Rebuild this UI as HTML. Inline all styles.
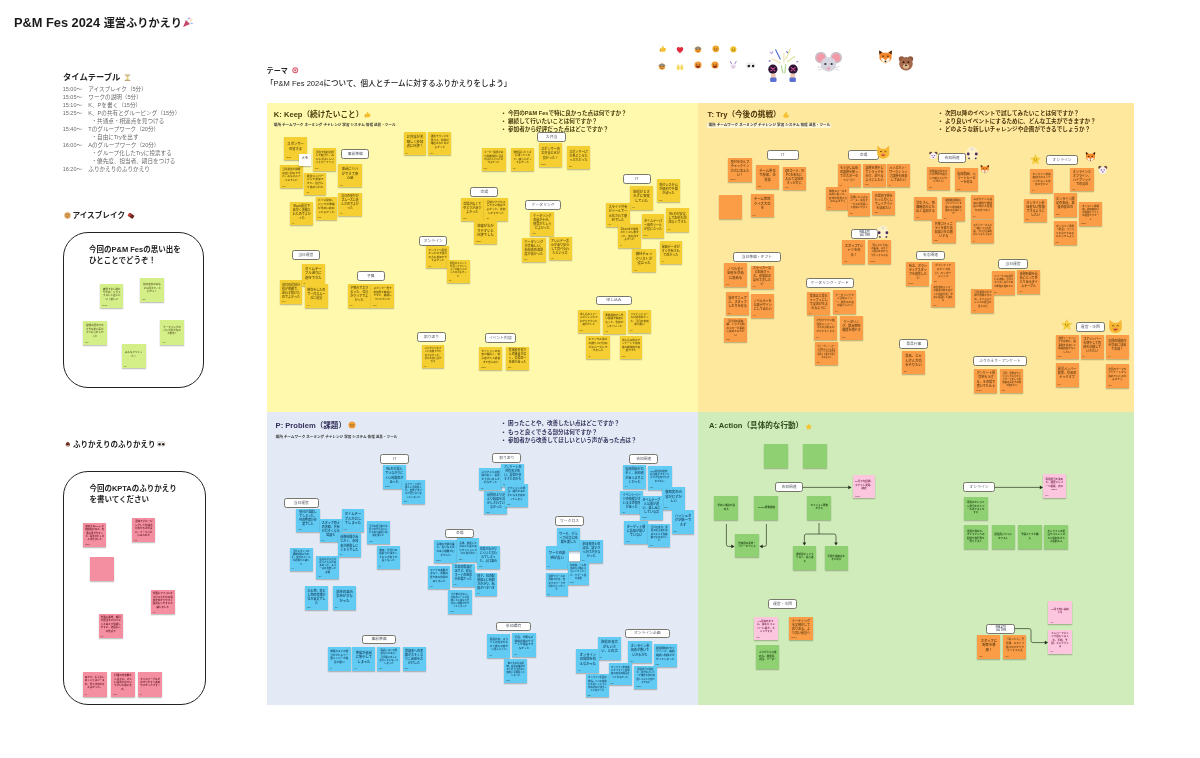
<!DOCTYPE html>
<html lang="ja"><head><meta charset="utf-8"><title>P&amp;M Fes 2024 運営ふりかえり</title><style>
*{box-sizing:border-box}
html,body{margin:0;padding:0}
body{width:1200px;height:758px;position:relative;overflow:hidden;background:#fff;font-family:"Liberation Sans","Noto Sans CJK JP",sans-serif;color:#1f1f1f}
.q{position:absolute}
.s{position:absolute;box-shadow:0 1.3px 1.2px rgba(40,40,30,.34);overflow:hidden;text-align:center;display:flex;align-items:center;justify-content:center}
.s b{display:block;font-weight:700;font-size:2.7px;line-height:1.36;padding:0 2px 3px;color:rgba(40,28,0,.66);word-break:break-all}
.s i{position:absolute;left:2px;bottom:1.6px;font-style:normal;font-size:1.7px;line-height:2px;color:rgba(30,20,0,.7)}
.y{background:#f5cf31}.o{background:#fa9d46}.c{background:#62cbf3}.g{background:#8fd172}.lg{background:#d4ee88}.pk{background:#f48fa1}.lp{background:#fbc6de}.w{background:#fff}
.c b{color:rgba(0,30,60,.7)}.g b{color:rgba(10,40,0,.8);padding-bottom:1px}.lp b{color:rgba(90,0,50,.8)}.pk b{color:rgba(70,0,10,.8)}
.l{position:absolute;background:#fff;border:.8px solid #77776c;border-radius:2.4px;font-size:3.8px;line-height:1;display:flex;align-items:center;justify-content:center;color:#50545e;white-space:nowrap;font-weight:400;padding-top:1.7px}
.l.big{font-size:5.6px;color:#5a6070;padding-top:.6px}
.t{position:absolute;white-space:nowrap;line-height:1}
.h{font-weight:700}
svg{position:absolute;overflow:visible}
</style></head><body><div id="board" style="position:absolute;left:0;top:0;width:1200px;height:758px;will-change:transform">
<div class="q" style="left:267px;top:103px;width:431.2px;height:308.6px;background:#fff9ae"></div>
<div class="q" style="left:698.2px;top:103px;width:435.8px;height:308.6px;background:#fde89e"></div>
<div class="q" style="left:267px;top:411.6px;width:431.2px;height:293.2px;background:#e4eaf5"></div>
<div class="q" style="left:698.2px;top:411.6px;width:435.8px;height:293px;background:#cfecba"></div>
<div class="t h" style="left:14px;top:16.6px;font-size:12.8px;color:#1a1a1a">P&amp;M Fes 2024 <span style="font-size:11.2px">運営ふりかえり</span></div>
<div class="t h" style="left:63px;top:73.3px;font-size:8.3px;color:#222">タイムテーブル</div>
<div class="t " style="left:62.7px;top:87.4px;font-size:5.5px;color:#6a6a6a">15:00～</div>
<div class="t " style="left:88.3px;top:87.4px;font-size:5.6px;color:#6a6a6a">アイスブレイク（5分）</div>
<div class="t " style="left:62.7px;top:95.4px;font-size:5.5px;color:#6a6a6a">15:05～</div>
<div class="t " style="left:88.3px;top:95.4px;font-size:5.6px;color:#6a6a6a">ワークの説明（5分）</div>
<div class="t " style="left:62.7px;top:103.4px;font-size:5.5px;color:#6a6a6a">15:10～</div>
<div class="t " style="left:88.3px;top:103.4px;font-size:5.6px;color:#6a6a6a">K、Pを書く（15分）</div>
<div class="t " style="left:62.7px;top:111.4px;font-size:5.5px;color:#6a6a6a">15:25～</div>
<div class="t " style="left:88.3px;top:111.4px;font-size:5.6px;color:#6a6a6a">K、Pの共有とグルーピング（15分）</div>
<div class="t " style="left:91.5px;top:119.4px;font-size:5.6px;color:#6a6a6a">・共通点・相違点を見つける</div>
<div class="t " style="left:62.7px;top:127.4px;font-size:5.5px;color:#6a6a6a">15:40～</div>
<div class="t " style="left:88.3px;top:127.4px;font-size:5.6px;color:#6a6a6a">Tのグループワーク（20分）</div>
<div class="t " style="left:91.5px;top:135.4px;font-size:5.6px;color:#6a6a6a">・自由にTryを出す</div>
<div class="t " style="left:62.7px;top:143.4px;font-size:5.5px;color:#6a6a6a">16:00～</div>
<div class="t " style="left:88.3px;top:143.4px;font-size:5.6px;color:#6a6a6a">Aのグループワーク（20分）</div>
<div class="t " style="left:91.5px;top:151.4px;font-size:5.6px;color:#6a6a6a">・グループ化したTryに投票する</div>
<div class="t " style="left:91.5px;top:159.4px;font-size:5.6px;color:#6a6a6a">・優先度、担当者、期日をつける</div>
<div class="t " style="left:62.7px;top:167.4px;font-size:5.5px;color:#6a6a6a">16:20～</div>
<div class="t " style="left:88.3px;top:167.4px;font-size:5.6px;color:#6a6a6a">ふりかえりのふりかえり</div>
<div class="t h" style="left:266.6px;top:67.6px;font-size:7.1px;color:#222">テーマ</div>
<div class="t " style="left:266px;top:79.7px;font-size:7.55px;font-weight:500;color:#222">「P&amp;M Fes 2024について、個人とチームに対するふりかえりをしよう」</div>
<div class="t h" style="left:273.8px;top:110.6px;font-size:7.6px;color:#4a3c0c">K: Keep（続けたいこと）</div>
<div class="t h" style="left:707.6px;top:111.0px;font-size:7.6px;color:#4a3208">T: Try（今後の挑戦）</div>
<div class="t h" style="left:275.6px;top:421.6px;font-size:7.6px;color:#34305c">P: Problem（課題）</div>
<div class="t h" style="left:709px;top:421.6px;font-size:7.6px;color:#2c4a1c">A: Action（具体的な行動）</div>
<div class="t h" style="left:273.8px;top:124.3px;font-size:3.6px;color:#333">場所 チームワーク ネーミング チャレンジ 学習 システム 情報 道具・ツール</div>
<div class="q" style="left:707.4px;top:122.8px;width:124px;height:5.6px;background:rgba(255,255,255,.55)"></div>
<div class="t h" style="left:708.5px;top:124.4px;font-size:3.6px;color:#333">場所 チームワーク ネーミング チャレンジ 学習 システム 情報 道具・ツール</div>
<div class="t h" style="left:275.6px;top:435.6px;font-size:3.6px;color:#333">場所 チームワーク ネーミング チャレンジ 学習 システム 情報 道具・ツール</div>
<div class="t h" style="left:502.5px;top:110.7px;font-size:5.6px;color:#4a3c0c">•</div>
<div class="t h" style="left:508px;top:110.7px;font-size:5.6px;color:#4a3c0c">今回のP&amp;M Fesで特に良かった点は何ですか？</div>
<div class="t h" style="left:502.5px;top:118.7px;font-size:5.6px;color:#4a3c0c">•</div>
<div class="t h" style="left:508px;top:118.7px;font-size:5.6px;color:#4a3c0c">継続して行いたいことは何ですか？</div>
<div class="t h" style="left:502.5px;top:126.7px;font-size:5.6px;color:#4a3c0c">•</div>
<div class="t h" style="left:508px;top:126.7px;font-size:5.6px;color:#4a3c0c">参加者から好評だった点はどこですか？</div>
<div class="t h" style="left:939.5px;top:110.89999999999999px;font-size:5.6px;color:#4a3208">•</div>
<div class="t h" style="left:945px;top:110.89999999999999px;font-size:5.6px;color:#4a3208">次回以降のイベントで試してみたいことは何ですか？</div>
<div class="t h" style="left:939.5px;top:119.1px;font-size:5.6px;color:#4a3208">•</div>
<div class="t h" style="left:945px;top:119.1px;font-size:5.6px;color:#4a3208">より良いイベントにするために、どんな工夫ができますか？</div>
<div class="t h" style="left:939.5px;top:126.89999999999999px;font-size:5.6px;color:#4a3208">•</div>
<div class="t h" style="left:945px;top:126.89999999999999px;font-size:5.6px;color:#4a3208">どのような新しいチャレンジや企画ができるでしょうか？</div>
<div class="t h" style="left:502.5px;top:421.3px;font-size:5.6px;color:#34305c">•</div>
<div class="t h" style="left:508px;top:421.3px;font-size:5.6px;color:#34305c">困ったことや、改善したい点はどこですか？</div>
<div class="t h" style="left:502.5px;top:429.7px;font-size:5.6px;color:#34305c">•</div>
<div class="t h" style="left:508px;top:429.7px;font-size:5.6px;color:#34305c">もっと良くできる部分は何ですか？</div>
<div class="t h" style="left:502.5px;top:437.7px;font-size:5.6px;color:#34305c">•</div>
<div class="t h" style="left:508px;top:437.7px;font-size:5.6px;color:#34305c">参加者から改善してほしいという声があった点は？</div>
<div class="t h" style="left:72.4px;top:211.6px;font-size:7.65px;color:#222">アイスブレイク</div>
<div class="q" style="left:62.7px;top:231.7px;width:141.8px;height:156.2px;border:1.1px solid #222;border-radius:25px"></div>
<div class="t h" style="left:89px;top:245.9px;font-size:7.5px;color:#222">今回のP&amp;M Fesの思い出を</div>
<div class="t h" style="left:89px;top:256.9px;font-size:7.5px;color:#222">ひとことでどうぞ！</div>
<div class="t h" style="left:73.0px;top:441.0px;font-size:7.5px;color:#222">ふりかえりのふりかえり</div>
<div class="q" style="left:62.7px;top:471.3px;width:143px;height:233.4px;border:1.1px solid #222;border-radius:25px"></div>
<div class="t h" style="left:89.4px;top:485.0px;font-size:7.5px;color:#222">今回のKPTAのふりかえり</div>
<div class="t h" style="left:89.4px;top:496.0px;font-size:7.5px;color:#222">を書いてください</div>
<svg style="left:0;top:0" width="1200" height="758" viewBox="0 0 1200 758"><g fill="none" stroke="#2e3a22" stroke-width="0.7">
<path d="M802.6 487.4H849"/><path d="M994.6 487.4H1040.5"/>
<path d="M726.4 524V544.4q0 2 2 2H732"/><path d="M766.4 524V544.4q0 2 -2 2H762"/>
<path d="M819 523V534M804.4 543V536q0-2 2-2H834q2 0 2 2V543"/>
<path d="M1015 628.6H1029q2 0 2 2V640.6q0 2 2 2H1045.5"/></g>
<g fill="#1f2a16"><path d="M851.5 487.4l-3.2-1.8v3.6z"/><path d="M1043 487.4l-3.2-1.8v3.6z"/>
<path d="M734.5 546.4l-3.2-1.8v3.6z"/><path d="M759.5 546.4l3.2-1.8v3.6z"/>
<path d="M804.4 545.6l-1.8-3.2h3.6z"/><path d="M836 545.6l-1.8-3.2h3.6z"/>
<path d="M1048 642.6l-3.2-1.8v3.6z"/></g></svg>
<div class="s y" style="left:284.2px;top:136.7px;width:22.8px;height:23.3px"><b style="font-size:3.3px">スポンサーの皆さま</b><i>tanaka</i></div>
<div class="s y" style="left:313.3px;top:147.5px;width:23.0px;height:23.3px"><b style="font-size:2.6px">全員で役割分担して動けた、みんなすばらしいフォローアップ</b><i>sato</i></div>
<div class="s y" style="left:280.0px;top:165.0px;width:22.5px;height:23.3px"><b style="font-size:2.6px">当日運営が臨機応変に対応できた。みなさんナイスでした</b><i>mori</i></div>
<div class="s y" style="left:304.2px;top:172.5px;width:22.1px;height:22.5px"><b style="font-size:2.8px">運営メンバーとして参加できた、協力して進められた</b><i>yuki</i></div>
<div class="s y" style="left:338.3px;top:163.7px;width:23.4px;height:23.8px"><b style="font-size:3.3px">事前にリハができて安心感</b><i>ken</i></div>
<div class="s y" style="left:338.3px;top:192.5px;width:23.4px;height:23.3px"><b style="font-size:2.9px">当日の受付がスムーズに進んだのでよかった</b><i>aoi</i></div>
<div class="s y" style="left:315.5px;top:196.7px;width:21.5px;height:23.3px"><b style="font-size:2.8px">バッジ配布、パンフの準備が早めに終わってよかった</b><i>hana</i></div>
<div class="s y" style="left:290.3px;top:201.7px;width:22.7px;height:23.6px"><b style="font-size:3.0px">Slack運営で素早く連絡とれたのでよかった</b><i>ito</i></div>
<div class="s y" style="left:403.7px;top:132.0px;width:22.6px;height:23.3px"><b style="font-size:3.3px">お弁当が美味しく参加者に好評！</b><i>ryo</i></div>
<div class="s y" style="left:428.3px;top:132.0px;width:23.0px;height:23.3px"><b style="font-size:2.6px">運営でランチを食べる、時間が確保されたのがよかった</b><i>nao</i></div>
<div class="s y" style="left:481.6px;top:147.6px;width:24.0px;height:23.4px"><b style="font-size:2.4px">コーヒー提供があり休憩時間に会話がはずんでいたのがよかった</b><i>mika</i></div>
<div class="s y" style="left:511.0px;top:147.6px;width:23.0px;height:23.4px"><b style="font-size:2.6px">懇親会にたくさん残ってくれて、盛り上がってよかった</b><i>sho</i></div>
<div class="s y" style="left:539.0px;top:143.0px;width:23.0px;height:24.0px"><b style="font-size:3.1px">スポンサーのお弁当と水が良かった！</b><i>tanaka</i></div>
<div class="s y" style="left:567.0px;top:145.6px;width:23.0px;height:23.4px"><b style="font-size:3.0px">スポンサーLTが見どころたっぷりだった</b><i>sato</i></div>
<div class="s y" style="left:657.0px;top:179.0px;width:23.0px;height:23.4px"><b style="font-size:3.1px">受付システムが便利で手間が減った</b><i>mori</i></div>
<div class="s y" style="left:630.0px;top:186.4px;width:23.0px;height:23.6px"><b style="font-size:3.3px">配信がとぎれずに安定していた</b><i>yuki</i></div>
<div class="s y" style="left:606.4px;top:203.0px;width:23.2px;height:24.0px"><b style="font-size:3.1px">スライド共有がツールで一元化されて便利でした</b><i>ken</i></div>
<div class="s y" style="left:666.0px;top:208.0px;width:23.0px;height:23.6px"><b style="font-size:3.0px">Wi-Fiが安定して配信も問題なくできた</b><i>aoi</i></div>
<div class="s y" style="left:641.6px;top:214.4px;width:22.8px;height:23.6px"><b style="font-size:3.0px">タイムキーパー用のツールが役に立った</b><i>hana</i></div>
<div class="s y" style="left:618.0px;top:224.4px;width:23.0px;height:23.6px"><b style="font-size:2.6px">Discordで質問がたくさん集まった、双方向でよかった</b><i>ito</i></div>
<div class="s y" style="left:659.6px;top:241.0px;width:22.4px;height:23.0px"><b style="font-size:3.0px">録画データがすぐ共有されて助かった</b><i>ryo</i></div>
<div class="s y" style="left:632.4px;top:249.0px;width:23.2px;height:23.4px"><b style="font-size:3.3px">機材チェックリストが役立った</b><i>nao</i></div>
<div class="s y" style="left:461.0px;top:198.0px;width:22.6px;height:23.0px"><b style="font-size:3.0px">会場が広くてゆとりがありよかった</b><i>mika</i></div>
<div class="s y" style="left:484.4px;top:198.0px;width:23.2px;height:23.0px"><b style="font-size:2.7px">会場がアクセスしやすい場所でよかった、参加しやすかった</b><i>sho</i></div>
<div class="s y" style="left:474.0px;top:221.0px;width:23.0px;height:22.6px"><b style="font-size:3.3px">導線がわかりやすいと好評でした</b><i>tanaka</i></div>
<div class="s y" style="left:530.4px;top:212.0px;width:23.6px;height:23.6px"><b style="font-size:3.0px">ケータリングの量が十分、軽食がちょうどよかった</b><i>sato</i></div>
<div class="s y" style="left:522.0px;top:237.6px;width:23.6px;height:24.0px"><b style="font-size:3.1px">ケータリングが美味しい、参加者の満足度が高かった</b><i>mori</i></div>
<div class="s y" style="left:548.6px;top:237.0px;width:23.0px;height:23.4px"><b style="font-size:3.0px">アレルギー表示があり安心して食べられたという声</b><i>yuki</i></div>
<div class="s y" style="left:426.4px;top:246.0px;width:22.6px;height:22.4px"><b style="font-size:2.6px">オンライン配信をしたので遠方の方も参加できてよかった</b><i>ken</i></div>
<div class="s y" style="left:447.0px;top:259.6px;width:22.6px;height:23.4px"><b style="font-size:2.4px">配信のコメントを拾ってセッションが盛り上がったのがよかった</b><i>aoi</i></div>
<div class="s y" style="left:279.6px;top:280.4px;width:22.8px;height:23.6px"><b style="font-size:3.0px">当日の役割分担が明確で、迷わず動けたのでよかった</b><i>hana</i></div>
<div class="s y" style="left:301.6px;top:263.6px;width:23.4px;height:22.4px"><b style="font-size:3.3px">タイムテーブル通りに進行できた</b><i>ito</i></div>
<div class="s y" style="left:305.0px;top:284.0px;width:22.6px;height:23.6px"><b style="font-size:3.0px">朝会をしたので一日スムーズに運営</b><i>ryo</i></div>
<div class="s y" style="left:347.6px;top:284.0px;width:23.4px;height:23.6px"><b style="font-size:3.0px">予算内でおさまった、会計がクリアでよかった</b><i>nao</i></div>
<div class="s y" style="left:371.0px;top:284.0px;width:23.0px;height:23.6px"><b style="font-size:2.6px">スポンサー費で参加費を無料にできた、感謝していただいた</b><i>mika</i></div>
<div class="s y" style="left:421.6px;top:345.0px;width:22.8px;height:23.4px"><b style="font-size:2.4px">ふりかえりをすぐに実施できたのでよかった、学びを次に活かせる</b><i>sho</i></div>
<div class="s y" style="left:479.0px;top:347.0px;width:23.4px;height:23.0px"><b style="font-size:2.7px">セッションの内容が幅広く、初心者から上級者まで楽しめた</b><i>tanaka</i></div>
<div class="s y" style="left:506.0px;top:347.0px;width:23.0px;height:23.0px"><b style="font-size:2.9px">登壇者の皆さんの熱量が高く、会場の一体感があった</b><i>sato</i></div>
<div class="s y" style="left:577.6px;top:309.6px;width:22.4px;height:23.4px"><b style="font-size:2.5px">申し込みフォームがシンプルでわかりやすいと評判でした</b><i>mori</i></div>
<div class="s y" style="left:603.0px;top:311.0px;width:22.6px;height:23.0px"><b style="font-size:2.6px">募集開始から早い段階で満席になった、告知がうまくいった</b><i>yuki</i></div>
<div class="s y" style="left:628.0px;top:309.6px;width:23.0px;height:23.4px"><b style="font-size:2.6px">リマインドメールが効果的だった、当日の参加率が高い</b><i>ken</i></div>
<div class="s y" style="left:586.4px;top:335.6px;width:23.2px;height:23.4px"><b style="font-size:2.7px">キャンセル待ちの繰り上げ対応がスムーズにできました</b><i>aoi</i></div>
<div class="s y" style="left:619.6px;top:335.6px;width:22.8px;height:23.4px"><b style="font-size:2.6px">申し込み時のアンケートで参加者の期待値を把握できた</b><i>hana</i></div>
<div class="s w" style="left:298.7px;top:154.2px;width:12.1px;height:11.6px"><b style="font-size:3.3px">メモ</b></div>
<div class="l" style="left:341.4px;top:149.3px;width:27.7px;height:9.6px">事前準備</div>
<div class="l" style="left:537.3px;top:132.3px;width:28.5px;height:9.9px">お弁当</div>
<div class="l" style="left:622.7px;top:174.3px;width:28.1px;height:9.5px">IT</div>
<div class="l" style="left:470.1px;top:186.7px;width:28.3px;height:9.9px">会場</div>
<div class="l" style="left:525.3px;top:199.7px;width:35.7px;height:9.9px">ケータリング</div>
<div class="l" style="left:419.1px;top:235.9px;width:28.3px;height:9.9px">オンライン</div>
<div class="l" style="left:291.7px;top:250.3px;width:28.3px;height:9.9px">当日運営</div>
<div class="l" style="left:356.7px;top:271.3px;width:28.3px;height:9.5px">予算</div>
<div class="l" style="left:417.3px;top:332.3px;width:28.5px;height:9.5px">振り返り</div>
<div class="l" style="left:484.7px;top:333.3px;width:31.3px;height:9.5px">イベント内容</div>
<div class="l" style="left:596.1px;top:295.7px;width:35.7px;height:9.5px">申し込み</div>
<div class="s o" style="left:728.4px;top:158.0px;width:23.2px;height:24.0px"><b style="font-size:3.1px">受付をセルフチェックイン方式に変えたい！</b><i>tanaka</i></div>
<div class="s o" style="left:756.0px;top:165.0px;width:23.0px;height:23.6px"><b style="font-size:3.3px">チーム単位で参加、企業枠</b><i>sato</i></div>
<div class="s o" style="left:783.0px;top:166.6px;width:22.6px;height:23.4px"><b style="font-size:3.0px">QRコード、NFCを名札に入れて交流のきっかけに</b><i>mori</i></div>
<div class="s o" style="left:718.6px;top:195.0px;width:23.4px;height:24.0px"></div>
<div class="s o" style="left:750.6px;top:194.0px;width:23.4px;height:23.4px"><b style="font-size:3.3px">チーム対抗クイズ大会を</b><i>ken</i></div>
<div class="s o" style="left:837.6px;top:164.0px;width:23.0px;height:23.4px"><b style="font-size:3.0px">もう少し広めの部屋を使ってポスターセッション</b><i>aoi</i></div>
<div class="s o" style="left:863.0px;top:163.6px;width:23.0px;height:23.4px"><b style="font-size:3.0px">部屋を増やしてトラックを分け、選べるようにしたい</b><i>hana</i></div>
<div class="s o" style="left:887.0px;top:164.0px;width:22.6px;height:23.4px"><b style="font-size:3.0px">ハンズオン・ワークショップ部屋を用意してみたい</b><i>ito</i></div>
<div class="s o" style="left:826.4px;top:186.6px;width:23.0px;height:23.4px"><b style="font-size:2.6px">休憩スペースを広めに取って、交流を促進するのがよさそう</b><i>ryo</i></div>
<div class="s o" style="left:848.0px;top:192.6px;width:22.0px;height:23.4px"><b style="font-size:2.5px">会場にキッズスペース、託児サービスを用意して参加しやすく</b><i>nao</i></div>
<div class="s o" style="left:872.4px;top:191.4px;width:22.6px;height:23.6px"><b style="font-size:3.0px">会場の下見をもっと早くしてレイアウトを決めたい</b><i>mika</i></div>
<div class="s o" style="left:842.4px;top:240.0px;width:23.0px;height:23.6px"><b style="font-size:3.3px">スタッフTシャツを作る！</b><i>sho</i></div>
<div class="s o" style="left:868.0px;top:240.0px;width:23.0px;height:23.6px"><b style="font-size:2.4px">「困ったときは」の看板、スタッフ窓口をわかりやすくする工夫</b><i>tanaka</i></div>
<div class="s o" style="left:927.0px;top:166.6px;width:22.6px;height:23.4px"><b style="font-size:2.6px">登壇者が決まるたびSNSで紹介して盛り上げていきたい</b><i>sato</i></div>
<div class="s o" style="left:955.0px;top:168.0px;width:23.0px;height:23.4px"><b style="font-size:3.1px">告知動画、ショートムービーを作る</b><i>mori</i></div>
<div class="s o" style="left:914.0px;top:197.0px;width:23.0px;height:23.0px"><b style="font-size:3.1px">学生さん、他職種の方にも広く告知する</b><i>yuki</i></div>
<div class="s o" style="left:942.0px;top:197.0px;width:23.0px;height:23.6px"><b style="font-size:2.4px">開催数週間前にプレイベントを開いて期待感を高めるのはどうか</b><i>ken</i></div>
<div class="s o" style="left:971.0px;top:195.0px;width:23.4px;height:23.6px"><b style="font-size:2.7px">公式サイトに過去の資料や雰囲気が伝わる写真をのせておく</b><i>aoi</i></div>
<div class="s o" style="left:932.0px;top:219.4px;width:23.6px;height:23.6px"><b style="font-size:3.0px">共催コミュニティを募り告知協力をお願いする</b><i>hana</i></div>
<div class="s o" style="left:971.0px;top:220.0px;width:23.4px;height:23.4px"><b style="font-size:2.4px">スポンサーさんと一緒にコラボ企画、ブログ記事を出してもらうなど</b><i>ito</i></div>
<div class="s o" style="left:1030.0px;top:169.4px;width:23.0px;height:23.6px"><b style="font-size:2.6px">オンライン参加者向けのコンテンツをもっと充実させたい</b><i>ryo</i></div>
<div class="s o" style="left:1070.4px;top:168.0px;width:23.2px;height:23.4px"><b style="font-size:3.0px">オンラインとオフライン、ハイブリッドでの交流</b><i>nao</i></div>
<div class="s o" style="left:1054.0px;top:192.6px;width:22.6px;height:24.0px"><b style="font-size:3.1px">オンライン限定の事前、事後の交流会</b><i>mika</i></div>
<div class="s o" style="left:1024.0px;top:198.6px;width:23.0px;height:23.4px"><b style="font-size:3.0px">オンライン参加者もLT登壇できるようにしたい</b><i>sho</i></div>
<div class="s o" style="left:1079.0px;top:202.4px;width:23.0px;height:23.6px"><b style="font-size:2.4px">オンライン視聴者、参加者向けの質問チャットを運営でサポート</b><i>tanaka</i></div>
<div class="s o" style="left:1053.6px;top:221.4px;width:23.0px;height:23.6px"><b style="font-size:2.6px">オンライン専用「司会」ファシリを立ててみるとどうでしょう</b><i>sato</i></div>
<div class="s o" style="left:724.0px;top:263.0px;width:23.0px;height:23.6px"><b style="font-size:3.3px">ノベルティ制作を早めに進める</b><i>mori</i></div>
<div class="s o" style="left:750.6px;top:265.6px;width:23.0px;height:23.4px"><b style="font-size:3.0px">ステッカーなど配布グッズ、参加記念品を工夫したい</b><i>yuki</i></div>
<div class="s o" style="left:726.0px;top:292.0px;width:23.0px;height:23.4px"><b style="font-size:3.1px">当日マニュアル、スタッフしおりを作る</b><i>ken</i></div>
<div class="s o" style="left:751.4px;top:294.4px;width:22.6px;height:23.6px"><b style="font-size:3.0px">ノベルティを公募デザインにしてみたい</b><i>aoi</i></div>
<div class="s o" style="left:724.0px;top:318.4px;width:23.0px;height:23.6px"><b style="font-size:2.6px">当日用の連絡網、トラブル時のフローを事前に決めておきたい</b><i>hana</i></div>
<div class="s o" style="left:807.4px;top:291.6px;width:22.6px;height:23.8px"><b style="font-size:3.0px">食事は立食ビュッフェにして交流が生まれるように</b><i>ito</i></div>
<div class="s o" style="left:833.4px;top:290.4px;width:22.6px;height:23.6px"><b style="font-size:2.6px">ケータリングでご当地メニュー、地元のお店を紹介したい</b><i>ryo</i></div>
<div class="s o" style="left:814.0px;top:316.4px;width:23.0px;height:23.2px"><b style="font-size:2.6px">片付けやすい個包装メニュー、ゴミの分別もわかりやすくする</b><i>nao</i></div>
<div class="s o" style="left:840.0px;top:316.0px;width:23.0px;height:23.6px"><b style="font-size:3.1px">ケータリング、飲み物の種類を増やす</b><i>mika</i></div>
<div class="s o" style="left:815.0px;top:341.6px;width:23.0px;height:23.4px"><b style="font-size:2.0px">ヴィーガン・ハラール対応メニューをメニューごとに表示を用意して誰でも楽しめるように</b><i>sho</i></div>
<div class="s o" style="left:906.4px;top:262.0px;width:23.0px;height:23.6px"><b style="font-size:3.0px">有志、ボランティアスタッフを募集したい</b><i>tanaka</i></div>
<div class="s o" style="left:932.0px;top:262.0px;width:22.6px;height:22.0px"><b style="font-size:2.7px">ボランティアスタッフ向け、オンボーディング</b><i>sato</i></div>
<div class="s o" style="left:931.4px;top:284.0px;width:23.2px;height:23.4px"><b style="font-size:2.4px">有志参加メンバーの得意分野を活かした役割分担、早めに相談して決める</b><i>mori</i></div>
<div class="s o" style="left:992.0px;top:271.0px;width:23.4px;height:23.6px"><b style="font-size:2.4px">リハーサルを前日にも実施。当日バタバタしないための準備を進めたい</b><i>yuki</i></div>
<div class="s o" style="left:1017.4px;top:269.6px;width:22.6px;height:24.0px"><b style="font-size:3.0px">休憩時間を長めにとってゆとりあるタイムテーブル</b><i>ken</i></div>
<div class="s o" style="left:971.4px;top:289.0px;width:23.0px;height:24.0px"><b style="font-size:2.5px">当日運営の引き継ぎ資料をまとめ、タイムラインごとの担当を見える化</b><i>aoi</i></div>
<div class="s o" style="left:1055.6px;top:335.0px;width:23.0px;height:24.0px"><b style="font-size:2.5px">運営ミーティングを定例化、議事録を共有して情報格差をなくしたい</b><i>hana</i></div>
<div class="s o" style="left:1080.6px;top:335.0px;width:23.0px;height:23.6px"><b style="font-size:3.0px">コアメンバーを増やして負荷を分散していきたい</b><i>ito</i></div>
<div class="s o" style="left:1106.0px;top:335.0px;width:22.6px;height:23.6px"><b style="font-size:3.0px">次回の開催日を早めに決めて告知！</b><i>ryo</i></div>
<div class="s o" style="left:1055.6px;top:363.0px;width:23.0px;height:23.6px"><b style="font-size:3.1px">運営メンバー募集、早めのキックオフ</b><i>nao</i></div>
<div class="s o" style="left:1106.0px;top:364.4px;width:22.6px;height:23.6px"><b style="font-size:2.6px">次回のテーマをアンケートから決めていくのがよさそう</b><i>mika</i></div>
<div class="s o" style="left:902.0px;top:350.6px;width:23.0px;height:23.4px"><b style="font-size:3.3px">景品、じゃんけん大会をやりたい</b><i>sho</i></div>
<div class="s o" style="left:974.4px;top:369.0px;width:23.0px;height:24.0px"><b style="font-size:3.1px">アンケート回答率を上げる、その場で書いてもらう</b><i>tanaka</i></div>
<div class="s o" style="left:1000.0px;top:369.0px;width:23.4px;height:23.6px"><b style="font-size:2.3px">当日、最後のセッションでふりかえりワークをして参加者の声をその場で集めたい</b><i>sato</i></div>
<div class="l" style="left:766.7px;top:149.7px;width:32.3px;height:9.9px">IT</div>
<div class="l" style="left:847.7px;top:149.7px;width:31.7px;height:9.9px">会場</div>
<div class="l big" style="left:850.7px;top:228.9px;width:27.7px;height:9.9px">警備</div>
<div class="l" style="left:938.1px;top:152.9px;width:27.9px;height:9.7px">告知関連</div>
<div class="l" style="left:1046.1px;top:155.3px;width:31.9px;height:9.9px">オンライン</div>
<div class="l" style="left:732.7px;top:252.3px;width:48.3px;height:9.5px">当日準備・ギフト</div>
<div class="l" style="left:805.7px;top:278.3px;width:48.1px;height:9.5px">ケータリング・フード</div>
<div class="l" style="left:916.1px;top:250.7px;width:28.9px;height:9.5px">有志関連</div>
<div class="l" style="left:998.1px;top:258.7px;width:29.7px;height:9.9px">当日運営</div>
<div class="l" style="left:1075.7px;top:322.3px;width:29.3px;height:9.5px">運営・次回</div>
<div class="l" style="left:899.1px;top:339.3px;width:29.3px;height:9.5px">景品行事</div>
<div class="l" style="left:973.1px;top:355.9px;width:53.7px;height:9.7px">ふりかえり・アンケート</div>
<div class="s c" style="left:383.0px;top:465.0px;width:22.6px;height:24.0px"><b style="font-size:3.0px">Wi-Fiが混んでつながりにくい時間帯があった</b><i>tanaka</i></div>
<div class="s c" style="left:402.0px;top:480.4px;width:22.6px;height:23.6px"><b style="font-size:2.4px">スクリーン切り替えに手間取った、変換アダプタが足りなくなってしまった</b><i>sato</i></div>
<div class="s c" style="left:296.4px;top:509.0px;width:23.2px;height:23.0px"><b style="font-size:2.9px">受付が混雑してしまった、列の整理が必要でした</b><i>mori</i></div>
<div class="s c" style="left:341.6px;top:509.0px;width:22.8px;height:23.0px"><b style="font-size:3.3px">タイムテーブルがおしてしまった</b><i>yuki</i></div>
<div class="s c" style="left:319.6px;top:519.0px;width:22.4px;height:23.4px"><b style="font-size:3.0px">スタッフ同士の連絡、共有がおそくなる場面も</b><i>ken</i></div>
<div class="s c" style="left:338.0px;top:533.0px;width:22.6px;height:24.0px"><b style="font-size:3.0px">休憩時間がみじかく、参加者が移動しにくそうでした</b><i>aoi</i></div>
<div class="s c" style="left:367.0px;top:521.0px;width:22.6px;height:23.0px"><b style="font-size:2.3px">当日の担当者が不在でわからないことがあり確認に時間を要した</b><i>hana</i></div>
<div class="s c" style="left:377.0px;top:545.6px;width:22.6px;height:23.4px"><b style="font-size:2.6px">撤収、片付けの段取りが決まっておらず終了が遅くなった</b><i>ito</i></div>
<div class="s c" style="left:289.6px;top:547.6px;width:23.0px;height:23.4px"><b style="font-size:2.4px">当日スタッフの休憩時間がとれず、交代のルールが必要だと感じた</b><i>ryo</i></div>
<div class="s c" style="left:316.4px;top:555.6px;width:22.6px;height:23.4px"><b style="font-size:2.4px">名札の記入台が足りず入口が混みあった、スペースの見直しが必要</b><i>nao</i></div>
<div class="s c" style="left:305.0px;top:586.4px;width:23.0px;height:23.6px"><b style="font-size:3.0px">忘れ物、落とし物の管理方法が未定でした</b><i>mika</i></div>
<div class="s c" style="left:333.0px;top:586.4px;width:23.0px;height:23.6px"><b style="font-size:3.3px">誘導の案内表示が少なかった</b><i>sho</i></div>
<div class="s c" style="left:434.0px;top:540.0px;width:23.0px;height:23.0px"><b style="font-size:2.6px">会場の空調が暑い、寒いなど声があり調整がむずかしい</b><i>tanaka</i></div>
<div class="s c" style="left:457.0px;top:538.4px;width:22.0px;height:23.6px"><b style="font-size:2.5px">会場、部屋ごとの広さに差がありセッションで立ち見が出た</b><i>sato</i></div>
<div class="s c" style="left:477.0px;top:546.0px;width:22.6px;height:23.0px"><b style="font-size:2.9px">会場がわかりにくいと言われてしまった、入口案内</b><i>mori</i></div>
<div class="s c" style="left:427.6px;top:566.0px;width:22.8px;height:23.0px"><b style="font-size:2.6px">マイクの本数が少なく、質疑応答で待ち時間がありました</b><i>yuki</i></div>
<div class="s c" style="left:451.6px;top:564.0px;width:23.4px;height:23.0px"><b style="font-size:2.9px">会場の電源が足りず、延長コードの用意が必要だった</b><i>ken</i></div>
<div class="s c" style="left:475.0px;top:573.0px;width:22.0px;height:23.0px"><b style="font-size:2.9px">椅子、机の配置換えに時間がかかり、転換がバタバタ</b><i>aoi</i></div>
<div class="s c" style="left:448.4px;top:590.0px;width:23.2px;height:24.0px"><b style="font-size:2.3px">ゴミ箱が少ない、分別のルールが会場ごとに異なり片付けに時間がかかってしまった</b><i>hana</i></div>
<div class="s c" style="left:328.0px;top:647.0px;width:22.6px;height:23.6px"><b style="font-size:2.6px">準備タスクの担当がかたより一部メンバーの負荷が高い</b><i>ito</i></div>
<div class="s c" style="left:352.4px;top:647.0px;width:23.0px;height:23.6px"><b style="font-size:3.3px">準備が直前に集中してしまった</b><i>ryo</i></div>
<div class="s c" style="left:377.4px;top:647.0px;width:23.0px;height:23.6px"><b style="font-size:2.4px">備品リストの更新もれがあり、当日買い出しに走ることになってしまった</b><i>nao</i></div>
<div class="s c" style="left:402.6px;top:647.0px;width:23.0px;height:23.6px"><b style="font-size:3.0px">登壇者への連絡がおそくなりご迷惑をおかけした</b><i>mika</i></div>
<div class="s c" style="left:479.0px;top:468.0px;width:23.0px;height:22.4px"><b style="font-size:2.6px">ふりかえりの時間が短く、意見を十分に出しきれなかった</b><i>sho</i></div>
<div class="s c" style="left:501.0px;top:464.0px;width:23.4px;height:23.0px"><b style="font-size:2.9px">アンケートの回答率が低い、設問が多すぎたのかも</b><i>tanaka</i></div>
<div class="s c" style="left:484.4px;top:491.0px;width:23.0px;height:23.4px"><b style="font-size:3.0px">前回のふりかえり結果を活かしきれていなかった</b><i>sato</i></div>
<div class="s c" style="left:505.0px;top:484.0px;width:22.6px;height:23.0px"><b style="font-size:2.6px">アクションの担当、期日があいまいなまま終わってしまう</b><i>mori</i></div>
<div class="s c" style="left:557.0px;top:528.0px;width:23.0px;height:23.0px"><b style="font-size:3.1px">ワーク、グループ分けに時間を要した</b><i>yuki</i></div>
<div class="s c" style="left:580.0px;top:539.6px;width:22.6px;height:23.4px"><b style="font-size:3.0px">参加者同士の交流、話すきっかけが少なかった</b><i>ken</i></div>
<div class="s c" style="left:545.6px;top:545.6px;width:23.0px;height:23.4px"><b style="font-size:3.3px">ワークの説明が長い</b><i>aoi</i></div>
<div class="s c" style="left:568.0px;top:562.0px;width:20.6px;height:23.0px"><b style="font-size:2.3px">初参加、一人参加の方が輪に入りにくそうだった、サポート役が必要</b><i>hana</i></div>
<div class="s c" style="left:545.6px;top:573.0px;width:22.4px;height:23.4px"><b style="font-size:2.4px">目的やゴールの共有が不足、何をするワークか伝わりにくかった</b><i>ito</i></div>
<div class="s c" style="left:623.0px;top:465.0px;width:23.0px;height:24.0px"><b style="font-size:3.1px">告知開始がおそく、参加者があつまりにくかった</b><i>ryo</i></div>
<div class="s c" style="left:648.0px;top:466.0px;width:23.6px;height:23.6px"><b style="font-size:2.4px">SNS発信の頻度、担当者がきまっておらず告知がとぎれがちに</b><i>nao</i></div>
<div class="s c" style="left:662.0px;top:487.0px;width:23.0px;height:23.0px"><b style="font-size:3.3px">告知文の内容がむずかしい</b><i>mika</i></div>
<div class="s c" style="left:620.4px;top:491.0px;width:22.6px;height:23.4px"><b style="font-size:3.0px">イベントページの情報が古いままの箇所があった</b><i>sho</i></div>
<div class="s c" style="left:640.0px;top:496.0px;width:23.0px;height:23.6px"><b style="font-size:3.0px">タイムテーブル公開が遅い、楽しみにしている声</b><i>tanaka</i></div>
<div class="s c" style="left:671.6px;top:510.4px;width:22.8px;height:23.2px"><b style="font-size:3.3px">ハッシュタグが統一できず</b><i>sato</i></div>
<div class="s c" style="left:624.4px;top:521.0px;width:23.2px;height:23.0px"><b style="font-size:3.1px">ターゲット層に告知が届いていない</b><i>mori</i></div>
<div class="s c" style="left:648.0px;top:524.0px;width:22.4px;height:23.4px"><b style="font-size:2.4px">当日の実況、発信の担当者を決めておらず投稿数が少なめでした</b><i>yuki</i></div>
<div class="s c" style="left:487.4px;top:634.4px;width:23.0px;height:23.6px"><b style="font-size:2.6px">画面共有、スライドの文字が小さく後ろの席から見えにくい</b><i>ken</i></div>
<div class="s c" style="left:512.4px;top:633.0px;width:23.2px;height:23.6px"><b style="font-size:2.7px">手話、字幕など情報保障のサポートを用意できなかった</b><i>aoi</i></div>
<div class="s c" style="left:504.4px;top:659.4px;width:22.6px;height:23.2px"><b style="font-size:2.3px">車いすの方の導線、段差の確認が不十分で当日のご案内に手間取ってしまった</b><i>hana</i></div>
<div class="s c" style="left:598.0px;top:637.0px;width:23.0px;height:23.0px"><b style="font-size:3.3px">配信の音声がちいさい、との声</b><i>ito</i></div>
<div class="s c" style="left:576.4px;top:649.4px;width:23.0px;height:23.2px"><b style="font-size:3.3px">オンラインの質問を拾えなかった</b><i>ryo</i></div>
<div class="s c" style="left:628.4px;top:640.6px;width:23.2px;height:22.8px"><b style="font-size:3.1px">オンライン参加者が置いていかれがち</b><i>nao</i></div>
<div class="s c" style="left:653.6px;top:644.0px;width:23.4px;height:23.0px"><b style="font-size:2.7px">配信機材のセッティング、接続確認に時間がかかってしまった</b><i>mika</i></div>
<div class="s c" style="left:609.0px;top:662.6px;width:22.6px;height:22.8px"><b style="font-size:2.3px">オンライン参加者とオフライン参加者の交流の機会をつくれなかった</b><i>sho</i></div>
<div class="s c" style="left:634.0px;top:666.0px;width:23.0px;height:23.0px"><b style="font-size:2.3px">配信担当が固定で、ほかのメンバーが操作方法を把握しておらず交代できない</b><i>tanaka</i></div>
<div class="s c" style="left:585.6px;top:674.0px;width:23.4px;height:23.4px"><b style="font-size:2.3px">オンライン企画の準備、リハの時間が不足しトラブル時の対応が決まっていなかった</b><i>sato</i></div>
<div class="s w" style="left:569.0px;top:553.6px;width:10.6px;height:7.4px"></div>
<div class="l" style="left:379.7px;top:453.7px;width:29.7px;height:10.1px">IT</div>
<div class="l" style="left:283.7px;top:497.7px;width:35.1px;height:9.9px">当日運営</div>
<div class="l" style="left:445.3px;top:528.9px;width:29.1px;height:9.3px">会場</div>
<div class="l" style="left:362.1px;top:634.7px;width:33.9px;height:9.7px">事前準備</div>
<div class="l" style="left:492.1px;top:452.7px;width:29.3px;height:9.9px">振り返り</div>
<div class="l" style="left:555.1px;top:516.3px;width:28.9px;height:9.5px">ワークロス</div>
<div class="l" style="left:629.1px;top:453.7px;width:29.3px;height:9.9px">告知関連</div>
<div class="l" style="left:496.1px;top:621.7px;width:34.7px;height:9.5px">参加環境</div>
<div class="l" style="left:624.7px;top:628.7px;width:45.1px;height:9.5px">オンライン企画</div>
<div class="s g" style="left:764.0px;top:444.0px;width:23.6px;height:24.4px"></div>
<div class="s g" style="left:803.4px;top:444.0px;width:23.2px;height:24.4px"></div>
<div class="s g" style="left:714.4px;top:496.0px;width:23.6px;height:24.0px"><b style="font-size:2.5px">早めに場所を決める</b></div>
<div class="s g" style="left:754.4px;top:496.0px;width:24.0px;height:24.0px"><b style="font-size:2.5px">Peatix募集開始</b></div>
<div class="s g" style="left:807.4px;top:495.6px;width:23.6px;height:24.0px"><b style="font-size:2.5px">セッション募集をする</b></div>
<div class="s g" style="left:735.4px;top:534.0px;width:23.2px;height:23.4px"><b style="font-size:2.5px">告知用の素材・バナーをつくる</b></div>
<div class="s g" style="left:793.0px;top:546.4px;width:23.4px;height:24.0px"><b style="font-size:2.5px">運営用チェックリスト、振り返る</b></div>
<div class="s g" style="left:824.6px;top:546.4px;width:23.4px;height:24.0px"><b style="font-size:2.5px">手順や連絡先をまとめる</b></div>
<div class="s g" style="left:756.0px;top:645.0px;width:23.4px;height:24.0px"><b style="font-size:2.5px">ふりかえりの進め方、運営用、次回、リーダー</b></div>
<div class="s g" style="left:964.0px;top:496.6px;width:23.6px;height:23.8px"><b style="font-size:2.5px">専用のオンライン担当を立てツールのテストをする</b></div>
<div class="s g" style="left:964.0px;top:525.0px;width:23.6px;height:24.0px"><b style="font-size:2.5px">企画を進める、オンラインへの配信や進行表を作りテスト</b></div>
<div class="s g" style="left:991.6px;top:525.0px;width:23.4px;height:24.0px"><b style="font-size:2.5px">配信用パソコンをテスト</b></div>
<div class="s g" style="left:1018.0px;top:525.0px;width:23.6px;height:24.0px"><b style="font-size:2.5px">予備マイクを購入</b></div>
<div class="s g" style="left:1044.4px;top:525.0px;width:23.6px;height:24.0px"><b style="font-size:2.5px">オンラインの司会やコメントひろい役割を立てる役割と人</b></div>
<div class="s lp" style="left:853.0px;top:475.0px;width:22.0px;height:23.4px"><b style="font-size:2.5px">10月下旬目標、チケット発売、確定</b><i>tanaka</i></div>
<div class="s lp" style="left:754.4px;top:616.6px;width:23.2px;height:23.0px"><b style="font-size:2.5px">10月初めまでに、決める
メンバーに聞き、チェックする</b><i>sato</i></div>
<div class="s lp" style="left:1043.0px;top:474.4px;width:22.6px;height:23.6px"><b style="font-size:2.5px">専用担当を決める、運営メンバーへ相談、次のMTG</b><i>mori</i></div>
<div class="s lp" style="left:1048.4px;top:600.6px;width:23.2px;height:23.8px"><b style="font-size:2.5px">11月下旬には終える</b><i>yuki</i></div>
<div class="s lp" style="left:1048.4px;top:630.0px;width:23.2px;height:23.6px"><b style="font-size:2.5px">メンバーでチェック用にリスト化、手順、予算、メンテナンス</b><i>ken</i></div>
<div class="s o" style="left:789.4px;top:616.6px;width:23.2px;height:23.4px"><b style="font-size:3.0px">ミーティングを定例化して振り返る、より良い運営へ</b><i>tanaka</i></div>
<div class="s o" style="left:977.4px;top:635.0px;width:23.0px;height:24.0px"><b style="font-size:3.3px">スタッフに腕章を着用！</b><i>sato</i></div>
<div class="s o" style="left:1003.4px;top:635.0px;width:23.0px;height:24.0px"><b style="font-size:2.6px">「困ったら」受付横、スタッフ窓口をわかりやすくする工夫</b><i>mori</i></div>
<div class="l" style="left:775.1px;top:482.3px;width:27.9px;height:9.9px">告知関連</div>
<div class="l" style="left:768.1px;top:598.7px;width:28.9px;height:9.9px">運営・次回</div>
<div class="l" style="left:963.1px;top:482.3px;width:31.9px;height:9.9px">オンライン</div>
<div class="l big" style="left:986.1px;top:623.7px;width:29.3px;height:9.9px">警備</div>
<div class="s lg" style="left:100.1px;top:283.9px;width:23.3px;height:23.8px"><b style="font-size:2.5px">練習で少し喉をやすめ、リラックスして話したい！楽しい</b><i>tanaka</i></div>
<div class="s lg" style="left:140.2px;top:277.8px;width:23.8px;height:23.8px"><b style="font-size:2.5px">初の有志のみなさん同士で、とにかく！</b><i>sato</i></div>
<div class="s lg" style="left:83.0px;top:320.8px;width:23.7px;height:23.8px"><b style="font-size:2.5px">登壇の途中での大きな笑い声がとてもうれしかった</b><i>mori</i></div>
<div class="s lg" style="left:160.3px;top:320.0px;width:23.5px;height:24.6px"><b style="font-size:2.5px">ケータリングのパンが好きなので集中！</b><i>yuki</i></div>
<div class="s lg" style="left:122.0px;top:343.8px;width:23.5px;height:24.5px"><b style="font-size:2.5px">みんなでつくった！</b><i>ken</i></div>
<div class="s pk" style="left:83.0px;top:523.0px;width:23.4px;height:23.7px"><b style="font-size:2.4px">初めてのKPTAで時間配分など、付箋も書きやすくて、意見がたくさん出せました</b><i>tanaka</i></div>
<div class="s pk" style="left:132.1px;top:518.4px;width:23.3px;height:24.0px"><b style="font-size:2.5px">全体でグルーピングして共通点がわかるのがよい、テーマごとにみられた</b><i>sato</i></div>
<div class="s pk" style="left:90.2px;top:557.2px;width:23.5px;height:24.3px"></div>
<div class="s pk" style="left:150.6px;top:589.9px;width:24.4px;height:24.5px"><b style="font-size:2.5px">付箋にアイコンをつけるとだれの意見かわかりやすく投票もしやすいと感じました</b><i>yuki</i></div>
<div class="s pk" style="left:98.6px;top:613.6px;width:24.4px;height:24.9px"><b style="font-size:2.5px">付箋に番号、期日や担当をいれておくとあとで見返しやすい、次回もこの形式で</b><i>ken</i></div>
<div class="s pk" style="left:82.5px;top:671.8px;width:24.3px;height:24.8px"><b style="font-size:2.5px">あとで、もう少しゆっくりスペースを、見てまわれるとよかった。</b><i>aoi</i></div>
<div class="s pk" style="left:111.2px;top:671.8px;width:23.7px;height:24.8px"><b style="font-size:2.5px">付箋の文字数をしぼると、さらに意見がひろいやすいと思います。</b><i>hana</i></div>
<div class="s pk" style="left:138.0px;top:671.8px;width:24.4px;height:24.8px"><b style="font-size:2.5px">タイムテーブルがわかりやすく進めやすかったです！</b><i>ito</i></div>
<svg style="left:658.7px;top:44.5px" width="7.5" height="7.5" viewBox="0 0 20 20"><path d="M6 9l4-7q3 0 2.5 3l-.7 3h5q2 0 1.6 2l-1.4 6q-.5 2-2.5 2H6z" fill="#f5c02f"/><rect x="2" y="9" width="4" height="9" rx="1" fill="#e9a820"/></svg>
<svg style="left:676px;top:45.6px" width="8" height="8" viewBox="0 0 20 20"><path d="M10 18C2 12 1 8 2.5 5 4.5 1.5 9 2.5 10 5.5 11 2.5 15.500 1.500 17.500 5 19 8 18 12 10 18z" fill="#e02b3a"/></svg>
<svg style="left:693.8px;top:44.5px" width="8" height="8" viewBox="0 0 20 20"><circle cx="10" cy="11.500" r="8" fill="#f0a030"/><path d="M2 8q8-9 16 0l1 2H1z" fill="#8d8a86"/><circle cx="7" cy="11.500" r="1.300" fill="#5a3210"/><circle cx="13" cy="11.500" r="1.300" fill="#5a3210"/><path d="M7 15q3 2.500 6 0" fill="none" stroke="#7a2a10" stroke-width="1.300"/></svg>
<svg style="left:711.5px;top:45px" width="7.6" height="7.6" viewBox="0 0 20 20"><circle cx="10" cy="10" r="9" fill="#f0a830"/><circle cx="7" cy="8.5" r="1.3" fill="#5a3a12"/><circle cx="13" cy="8.5" r="1.3" fill="#5a3a12"/><path d="M6 12.5q4 4 8 0" fill="none" stroke="#5a3a12" stroke-width="1.3" stroke-linecap="round"/></svg>
<svg style="left:729.8px;top:46px" width="6.8" height="6.8" viewBox="0 0 20 20"><circle cx="10" cy="10" r="9" fill="#f2c230"/><circle cx="7" cy="8.5" r="1.3" fill="#5a3a12"/><circle cx="13" cy="8.5" r="1.3" fill="#5a3a12"/><path d="M6 12.5q4 4 8 0" fill="none" stroke="#5a3a12" stroke-width="1.3" stroke-linecap="round"/></svg>
<svg style="left:658.3px;top:61.5px" width="8" height="8" viewBox="0 0 20 20"><circle cx="10" cy="11.500" r="8" fill="#e9a040"/><path d="M2 8q8-9 16 0l1 2H1z" fill="#8d8a86"/><circle cx="7" cy="11.500" r="1.300" fill="#5a3210"/><circle cx="13" cy="11.500" r="1.300" fill="#5a3210"/><path d="M7 15q3 2.500 6 0" fill="none" stroke="#7a2a10" stroke-width="1.300"/></svg>
<svg style="left:675.5px;top:62.5px" width="8" height="8" viewBox="0 0 20 20"><path d="M2 8q0-2 2-2l1-3q1.500-1 2 1v2q2 0 2 3v6q0 3-3.500 3T2 15z" fill="#f5d860"/><path d="M18 8q0-2-2-2l-1-3q-1.500-1-2 1v2q-2 0-2 3v6q0 3 3.500 3T18 15z" fill="#f5d860"/></svg>
<svg style="left:693.8px;top:61px" width="8" height="8" viewBox="0 0 20 20"><circle cx="10" cy="10" r="9" fill="#f09a38"/><path d="M5 7.500l3 1.500-3 1.500M15 7.500l-3 1.500 3 1.500" fill="none" stroke="#5a3210" stroke-width="1.200"/><path d="M4.500 12h11q-1 5.500-5.500 5.500T4.500 12z" fill="#8a2a1a"/></svg>
<svg style="left:711.3px;top:60.8px" width="8" height="8" viewBox="0 0 20 20"><circle cx="10" cy="10" r="9" fill="#f39a30"/><path d="M5 7.500l3 1.500-3 1.500M15 7.500l-3 1.500 3 1.500" fill="none" stroke="#5a3210" stroke-width="1.200"/><path d="M4.500 12h11q-1 5.500-5.500 5.500T4.500 12z" fill="#8a2a1a"/></svg>
<svg style="left:728.5px;top:60.5px" width="8.5" height="8.5" viewBox="0 0 20 20"><path d="M3 1l4 7M17 1l-4 7" stroke="#9a6ab8" stroke-width="2" stroke-linecap="round"/><ellipse cx="10" cy="12.500" rx="7" ry="6.500" fill="#f3eef6"/><circle cx="7.300" cy="11.500" r="1.100" fill="#7a3a9a"/><circle cx="12.700" cy="11.500" r="1.100" fill="#7a3a9a"/><ellipse cx="10" cy="15" rx="2" ry="1.500" fill="#d78ac0"/></svg>
<svg style="left:745.5px;top:61.5px" width="9" height="6.5" viewBox="0 0 20 14"><ellipse cx="5.300" cy="7" rx="4.800" ry="6.300" fill="#f7f7f7" stroke="#cfcfcf" stroke-width=".8"/><ellipse cx="14.700" cy="7" rx="4.800" ry="6.300" fill="#f7f7f7" stroke="#cfcfcf" stroke-width=".8"/><circle cx="6.300" cy="8.500" r="2.800" fill="#1e1a18"/><circle cx="15.700" cy="8.500" r="2.800" fill="#1e1a18"/></svg>
<svg style="left:765.5px;top:47.5px" width="34" height="35" viewBox="0 0 36 38"><g stroke-width="1.200" stroke-linecap="round"><path d="M10 2l5 10" stroke="#4a6ad0"/><path d="M26 1l-5 11" stroke="#e9e29a"/><path d="M31 9l-8 6" stroke="#d8e6a0"/><path d="M6 12l9 4" stroke="#f0e0a0"/><path d="M19 6v10" stroke="#e8e4b0"/><path d="M16 19l2 8M21 18l-1 9" stroke="#a8d890"/><path d="M4 5l2 1 1-2" stroke="#b8a8e0" fill="none"/><path d="M22 4l1 1M33 15l1 0M3 14l1 0" stroke="#5a6ab0"/></g><circle cx="7" cy="23" r="5" fill="#2c1434"/><circle cx="29" cy="23" r="5" fill="#2c1434"/><path d="M4.500 21l5 4M9.500 21l-5 4M26.500 21l5 4M31.500 21l-5 4" stroke="#e05a98" stroke-width="1.100"/><rect x="5" y="28" width="5" height="5" rx="1" fill="#f0c8b0"/><rect x="26" y="28" width="5" height="5" rx="1" fill="#f0c8b0"/><rect x="4" y="32" width="7" height="5" rx="1.500" fill="#5b6fd0"/><rect x="25" y="32" width="7" height="5" rx="1.500" fill="#5b6fd0"/></svg>
<svg style="left:814.5px;top:51px" width="27" height="21.5" viewBox="0 0 30 23"><circle cx="6.500" cy="7" r="6.500" fill="#c9c0cc"/><circle cx="23.500" cy="7" r="6.500" fill="#c9c0cc"/><circle cx="6.500" cy="7" r="4.800" fill="#f29aa8"/><circle cx="23.500" cy="7" r="4.800" fill="#f29aa8"/><ellipse cx="15" cy="14.500" rx="8.500" ry="8" fill="#d6d4df"/><circle cx="11.500" cy="14" r="1.200" fill="#333"/><circle cx="18.500" cy="14" r="1.200" fill="#333"/><ellipse cx="15" cy="19" rx="1.800" ry="1.300" fill="#f0a0b0"/><path d="M8 18l-5-1M8 19.500l-5 1.500M22 18l5-1M22 19.500l5 1.500" stroke="#aaa" stroke-width=".5"/></svg>
<svg style="left:877.5px;top:48.5px" width="15" height="15" viewBox="0 0 20 20"><path d="M1.500 2l5.500 3h6l5.500-3 -.5 8q1 4-3.500 7l-4.500 2.500 -4.500-2.500q-4.500-3-3.500-7z" fill="#f0852a"/><path d="M1.500 2l4 2.200-3.600 3zM18.500 2l-4 2.200 3.600 3z" fill="#3a1e10"/><path d="M3.500 12.500q3-1.500 6.500 2.500 3.500-4 6.500-2.500l-2 4-4.500 3-4.500-3z" fill="#fff1dc"/><circle cx="6.800" cy="9.800" r="1" fill="#3a2208"/><circle cx="13.200" cy="9.800" r="1" fill="#3a2208"/><circle cx="10" cy="16.500" r="1.200" fill="#3a2208"/></svg>
<svg style="left:897.5px;top:55px" width="16" height="16" viewBox="0 0 20 20"><circle cx="4.500" cy="5" r="3.500" fill="#8f5a40"/><circle cx="15.500" cy="5" r="3.500" fill="#8f5a40"/><circle cx="10" cy="11" r="8.500" fill="#a3684a"/><ellipse cx="10" cy="14" rx="4" ry="3.200" fill="#d9b38c"/><circle cx="7" cy="9" r="1.100" fill="#2a1608"/><circle cx="13" cy="9" r="1.100" fill="#2a1608"/><ellipse cx="10" cy="12.800" rx="1.400" ry="1" fill="#2a1608"/></svg>
<svg style="left:182px;top:17px" width="11" height="11" viewBox="0 0 20 20"><path d="M2 18l5-12 7 7z" fill="#c6486a"/><path d="M7 6l7 7" stroke="#8a2a4a" stroke-width="1"/><g stroke-width="1.400" stroke-linecap="round"><path d="M11 4l1-2" stroke="#5b8def"/><path d="M15 7l3-2" stroke="#f5c02f"/><path d="M16 11l3 1" stroke="#5b8def"/><path d="M13 2l2 1" stroke="#ef6aa8"/></g></svg>
<svg style="left:124px;top:72.5px" width="7" height="9.5" viewBox="0 0 20 20"><path d="M3 2h14v2l-5 6 5 6v2H3v-2l5-6-5-6z" fill="#e9e2c4"/><path d="M6 5h8l-4 4zM6 16l4-4 4 4z" fill="#e2b84a"/><rect x="2" y="1" width="16" height="2" fill="#a88a4a"/><rect x="2" y="17" width="16" height="2" fill="#a88a4a"/></svg>
<svg style="left:291.5px;top:67px" width="6.5" height="6.5" viewBox="0 0 20 20"><circle cx="10" cy="10" r="9" fill="#d9576a"/><circle cx="10" cy="10" r="6" fill="#f7eaea"/><circle cx="10" cy="10" r="3.300" fill="#d9576a"/></svg>
<svg style="left:363.5px;top:110.5px" width="7" height="7" viewBox="0 0 20 20"><path d="M6 9l4-7q3 0 2.5 3l-.7 3h5q2 0 1.6 2l-1.4 6q-.5 2-2.5 2H6z" fill="#f5c02f"/><rect x="2" y="9" width="4" height="9" rx="1" fill="#e9a820"/></svg>
<svg style="left:782px;top:110.5px" width="8" height="7.5" viewBox="0 0 20 20"><path d="M3 16q-2-6 3-8l3-5q3-2 4 2l-2 4q6-1 7 4-1 5-8 5-5 0-7-2z" fill="#f5c02f"/></svg>
<svg style="left:348px;top:420.5px" width="8" height="8" viewBox="0 0 20 20"><circle cx="10" cy="10" r="9" fill="#f2a23a"/><circle cx="7" cy="8.5" r="1.3" fill="#5a3a12"/><circle cx="13" cy="8.5" r="1.3" fill="#5a3a12"/><path d="M6 12.5q4 4 8 0" fill="none" stroke="#5a3a12" stroke-width="1.3" stroke-linecap="round"/></svg>
<svg style="left:805px;top:422.5px" width="7.5" height="7.5" viewBox="0 0 20 20"><path d="M10 1l2.700 5.800 6.300.8-4.600 4.400 1.200 6.300L10 15.200 4.400 18.300l1.200-6.300L1 7.600l6.300-.8z" fill="#f3c433"/></svg>
<svg style="left:63.7px;top:211.5px" width="7" height="7" viewBox="0 0 20 20"><circle cx="10" cy="10" r="9" fill="#dba15a"/><circle cx="6.500" cy="7" r="1.500" fill="#8a5a2a"/><circle cx="13" cy="8" r="1.500" fill="#8a5a2a"/><circle cx="9" cy="13.500" r="1.500" fill="#8a5a2a"/></svg>
<svg style="left:126.5px;top:211.5px" width="8" height="7.5" viewBox="0 0 20 20"><rect x="3" y="5" width="15" height="10" rx="1.500" fill="#6a2a1e" transform="rotate(35 10 10)"/><rect x="2" y="6" width="7" height="9" rx="1" fill="#c23a3a" transform="rotate(35 10 10)"/></svg>
<svg style="left:64.6px;top:441px" width="5.6" height="6.2" viewBox="0 0 20 20"><path d="M10 1.500q9 5 8 11.500-1.500 5.500-8 5.500t-8-5.500q-1-6.500 8-11.500z" fill="#6e2f26"/><path d="M3 13.500q7 2.500 14 0-1 5-7 5t-7-5z" fill="#e3cdb6"/></svg>
<svg style="left:156.6px;top:441.4px" width="8" height="5.6" viewBox="0 0 20 14"><ellipse cx="5.300" cy="7" rx="4.800" ry="6.300" fill="#f7f7f7" stroke="#9a9a9a" stroke-width="1"/><ellipse cx="14.700" cy="7" rx="4.800" ry="6.300" fill="#f7f7f7" stroke="#9a9a9a" stroke-width="1"/><circle cx="6.300" cy="8" r="3" fill="#2a1d14"/><circle cx="15.700" cy="8" r="3" fill="#2a1d14"/></svg>
<svg style="left:876.4px;top:145px" width="14.5" height="14.5" viewBox="0 0 20 20"><path d="M2 1l5 4h6l5-4 .5 9q.5 8-8.500 9-9-1-8.500-9z" fill="#f7b733"/><path d="M5.500 9.500q1.500-2 3 0M11.500 9.500q1.500-2 3 0" fill="none" stroke="#6a3d08" stroke-width="1.100"/><path d="M6.500 13q3.500 5 7 0z" fill="#c2452b"/><ellipse cx="10" cy="12.300" rx="1.200" ry=".8" fill="#e9788a"/></svg>
<svg style="left:875.6px;top:224.5px" width="13.5" height="14.5" viewBox="0 0 26 28"><ellipse cx="13" cy="13" rx="11" ry="12" fill="#fffaf0" opacity=".5"/><path d="M11 3l2 5M16 3l-2 5" stroke="#b9c2e6" stroke-width="1"/><path d="M5 8l2 2M21 7l-2 3" stroke="#f3d9a0" stroke-width=".9"/><circle cx="6" cy="15" r="2.700" fill="#4a2f5e"/><circle cx="21" cy="15" r="2.700" fill="#4a2f5e"/><circle cx="7.500" cy="23" r="1.700" fill="#3a3560"/><circle cx="20" cy="23" r="1.700" fill="#3a3560"/></svg>
<svg style="left:929px;top:151px" width="8.7" height="8.7" viewBox="0 0 20 20"><circle cx="4" cy="5" r="3.400" fill="#6a4a3a"/><circle cx="16" cy="5" r="3.400" fill="#6a4a3a"/><ellipse cx="10" cy="11.500" rx="7.800" ry="7.200" fill="#f4f0f4"/><circle cx="7" cy="10.500" r="1.300" fill="#7a3a9a"/><circle cx="13" cy="10.500" r="1.300" fill="#7a3a9a"/><ellipse cx="10" cy="14.500" rx="1.800" ry="1.500" fill="#9a4a9a"/></svg>
<svg style="left:964.5px;top:146px" width="14" height="15" viewBox="0 0 26 28"><ellipse cx="13" cy="13" rx="11" ry="12" fill="#fffaf0" opacity=".5"/><path d="M11 3l2 5M16 3l-2 5" stroke="#b9c2e6" stroke-width="1"/><path d="M5 8l2 2M21 7l-2 3" stroke="#f3d9a0" stroke-width=".9"/><circle cx="6" cy="15" r="2.700" fill="#4a2f5e"/><circle cx="21" cy="15" r="2.700" fill="#4a2f5e"/><circle cx="7.500" cy="23" r="1.700" fill="#3a3560"/><circle cx="20" cy="23" r="1.700" fill="#3a3560"/></svg>
<svg style="left:980.3px;top:164px" width="9.7" height="9.7" viewBox="0 0 20 20"><path d="M1.500 2l5.500 3h6l5.500-3 -.5 8q1 4-3.500 7l-4.500 2.500 -4.500-2.500q-4.500-3-3.500-7z" fill="#f0852a"/><path d="M1.500 2l4 2.200-3.600 3zM18.500 2l-4 2.200 3.600 3z" fill="#3a1e10"/><path d="M3.500 12.500q3-1.500 6.500 2.500 3.500-4 6.500-2.500l-2 4-4.500 3-4.500-3z" fill="#fff1dc"/><circle cx="6.800" cy="9.800" r="1" fill="#3a2208"/><circle cx="13.200" cy="9.800" r="1" fill="#3a2208"/><circle cx="10" cy="16.500" r="1.200" fill="#3a2208"/></svg>
<svg style="left:1030px;top:154px" width="11" height="11" viewBox="0 0 20 20"><path d="M10 1l2.700 5.800 6.300.8-4.600 4.400 1.200 6.300L10 15.200 4.400 18.300l1.200-6.300L1 7.600l6.300-.8z" fill="#f9d23c" stroke="#e8b820" stroke-width=".6"/><circle cx="7.800" cy="9" r=".9" fill="#6a4a08"/><circle cx="12.200" cy="9" r=".9" fill="#6a4a08"/><path d="M8 11.500q2 2 4 0" fill="none" stroke="#6a4a08" stroke-width=".8"/></svg>
<svg style="left:1085px;top:151px" width="11" height="11" viewBox="0 0 20 20"><path d="M1.500 2l5.500 3h6l5.500-3 -.5 8q1 4-3.500 7l-4.500 2.500 -4.500-2.500q-4.500-3-3.500-7z" fill="#f0852a"/><path d="M1.500 2l4 2.200-3.600 3zM18.500 2l-4 2.200 3.600 3z" fill="#3a1e10"/><path d="M3.500 12.500q3-1.500 6.500 2.500 3.500-4 6.500-2.500l-2 4-4.500 3-4.500-3z" fill="#fff1dc"/><circle cx="6.800" cy="9.800" r="1" fill="#3a2208"/><circle cx="13.200" cy="9.800" r="1" fill="#3a2208"/><circle cx="10" cy="16.500" r="1.200" fill="#3a2208"/></svg>
<svg style="left:1097.6px;top:165px" width="9.5" height="9.5" viewBox="0 0 20 20"><circle cx="4" cy="5" r="3.400" fill="#6a4a3a"/><circle cx="16" cy="5" r="3.400" fill="#6a4a3a"/><ellipse cx="10" cy="11.500" rx="7.800" ry="7.200" fill="#f4f0f4"/><circle cx="7" cy="10.500" r="1.300" fill="#7a3a9a"/><circle cx="13" cy="10.500" r="1.300" fill="#7a3a9a"/><ellipse cx="10" cy="14.500" rx="1.800" ry="1.500" fill="#9a4a9a"/></svg>
<svg style="left:1061px;top:319px" width="11.5" height="11.5" viewBox="0 0 20 20"><path d="M10 1l2.700 5.800 6.300.8-4.600 4.400 1.200 6.300L10 15.200 4.400 18.300l1.200-6.300L1 7.600l6.300-.8z" fill="#f9d23c" stroke="#e8b820" stroke-width=".6"/><circle cx="7.800" cy="9" r=".9" fill="#6a4a08"/><circle cx="12.200" cy="9" r=".9" fill="#6a4a08"/><path d="M8 11.500q2 2 4 0" fill="none" stroke="#6a4a08" stroke-width=".8"/></svg>
<svg style="left:1108px;top:319px" width="15" height="15" viewBox="0 0 20 20"><path d="M2 1l5 4h6l5-4 .5 9q.5 8-8.500 9-9-1-8.500-9z" fill="#f7b733"/><path d="M5.500 9.500q1.500-2 3 0M11.500 9.500q1.500-2 3 0" fill="none" stroke="#6a3d08" stroke-width="1.100"/><path d="M6.500 13q3.500 5 7 0z" fill="#c2452b"/><ellipse cx="10" cy="12.300" rx="1.200" ry=".8" fill="#e9788a"/></svg>
</div></body></html>
